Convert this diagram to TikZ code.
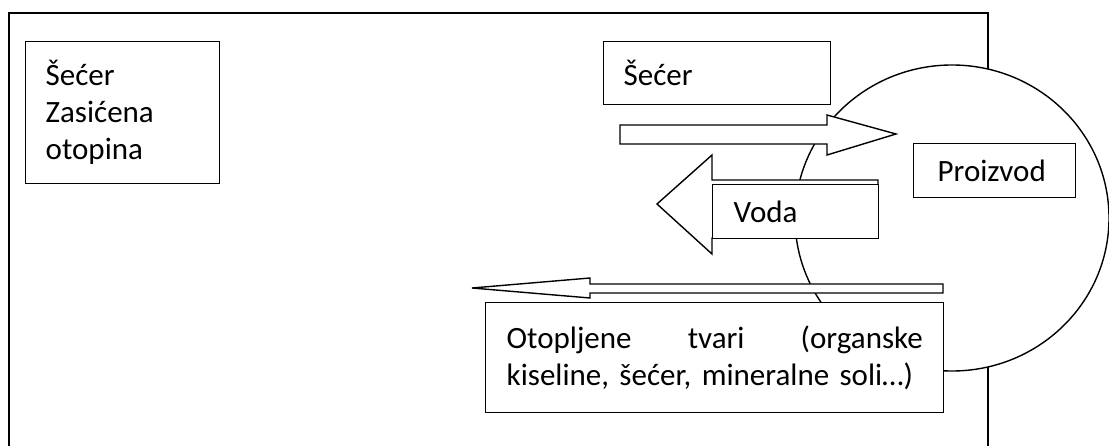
\documentclass[tikz,border=0pt]{standalone}
\usepackage{fontspec}
\setmainfont{Carlito}
\newcommand\boxfont{\fontsize{31pt}{37pt}\selectfont}

\begin{document}
\begin{tikzpicture}[x=1pt, y=-1pt, line width=1.4pt,
      box/.style = {shape=rectangle, draw, fill=white, align=left,
        anchor=north west, inner ysep=0pt, font=\boxfont},
      blockarrow/.style = {draw, fill=white, line join=miter}]
  \useasboundingbox (0,0) rectangle (1109,446);
  % outer vessel, open at the bottom
  \draw (9,446) -- (9,13) -- (988,13) -- (988,446);
  % the product
  \draw[fill=white] (952,218) ellipse [x radius=157, y radius=153];
  % boxes
  \node[box, inner xsep=20pt, text width=154pt, minimum height=142pt]
    (otopina) at (25,41) {Šećer\\Zasićena\\otopina};
  \node[box, inner xsep=20pt, text width=187pt, minimum height=63pt]
    (secer) at (603,41) {Šećer};
  \node[box, inner xsep=24pt, text width=114pt, minimum height=54pt]
    (proizvod) at (913,143) {Proizvod};
  % flows
  \draw[blockarrow] (620,125) -- (827,125) -- (827,115) -- (896,134)
    -- (827,155) -- (827,144) -- (620,144) -- cycle;
  \draw[blockarrow] (878,180) -- (712,180) -- (712,155) -- (657,204)
    -- (712,254) -- (712,238) -- (878,238) -- cycle;
  \node[box, inner xsep=21pt, text width=124pt, minimum height=54pt]
    (voda) at (712,184) {Voda};
  \draw[blockarrow] (943,284) -- (590,284) -- (590,278) -- (472,288)
    -- (590,298) -- (590,293) -- (943,293) -- cycle;
  \node[box, inner xsep=21pt, text width=416pt, minimum height=110pt]
    (tvari) at (485,302)
    {Otopljene\hfill tvari\hfill (organske\\kiseline, šećer, mineralne soli…)};
\end{tikzpicture}
\end{document}
